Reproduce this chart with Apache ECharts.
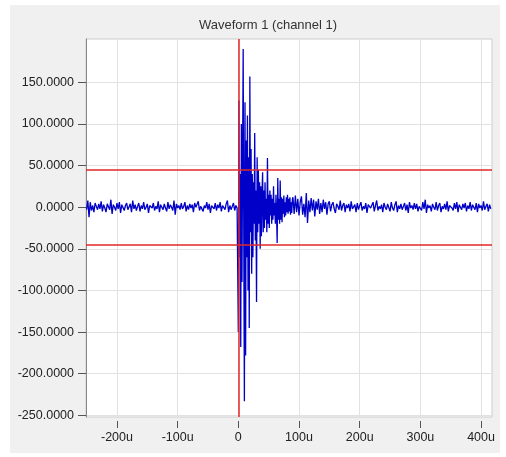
<!DOCTYPE html>
<html>
<head>
<meta charset="utf-8">
<title>Waveform 1 (channel 1)</title>
<script src="https://cdn.jsdelivr.net/npm/echarts@6.0.0/dist/echarts.min.js"></script>
<style>
  html, body { margin: 0; padding: 0; background: #fff; }
  #chart { width: 506px; height: 457px; }
</style>
</head>
<body>
<div id="chart"></div>
<script>
const title = 'Waveform 1 (channel 1)';

// tick positions (time in us, amplitude)
const xTicks = [-200, -100, 0, 100, 200, 300, 400];
const yTicks = [-250, -200, -150, -100, -50, 0, 50, 100, 150];

// cursor lines
const triggerTime = 0;
const thresholds = [45, -45];

// pre-trigger noise, every 2us from -250us
const preStart = -250;
const preStep = 2;
const preValues = [
  -3, 8, -12, 6, -4, 2, -6, 5, 1, -3, 4, -2, 7, -5, 3, -1, -6, 4, 2, -3,
  9, -8, 3, 0, -4, 5, -2, 6, -7, 3, 1, -4, 2, 5, -3, -1, 4, -6, 8, -2,
  3, -4, 1, 5, -5, 2, -2, 6, -3, 0, 4, -7, 2, 3, -1, 5, -4, 1, -2, 7,
  -6, 3, 2, -3, 4, -1, -5, 6, -2, 3, 0, -4, 8, -9, 4, -1, 2, -3, 5, -2,
  1, 6, -5, 2, -3, 4, -1, 3, -6, 5, 0, -2, 7, -4, 1, 3, -5, 2, -1, 6,
  -3, 4, -7, 2, 1, -2, 5, -4, 3, -1, 6, -5, 2, 0, -3, 4, 8, -6, 2, -3,
  1, 5, -4, 2, -1,
];

// burst after trigger, every 1us from 0
const burstStart = 0;
const burstStep = 1;
const burstValues = [
  -150, 128, -60, 40, -168, 100, -90, 60, 190, -40,
  -233, 126, -178, 80, -60, 110, -100, 60, -145, 157,
  -30, 70, -80, 40, -60, 30, -20, 89, -40, 20,
  -114, 60, -30, 45, -20, 30, -50, 25, -35, 15,
  42, -30, 20, -25, 30, -15, 10, -30, 59, -20,
  15, -25, 20, -10, 15, -20, 10, -15, 25, -10,
  5, -20, 15, -10, -43, 35, -15, 10, -20, 32,
  -15, 12, -18, 10, -8, 14, -12, 6, -10, 12,
  -6, 15, -8, 10, -5, 12, -9, 6, -7, 9,
];

// tail noise, every 2us from 90us
const tailStart = 90;
const tailStep = 2;
const tailValues = [
  12, -8, 14, -6, 10, -10, 6, 13, -9, 4, -12, 17, -19, 8, -6, 11, -4, 9, -11, 7,
  -3, 10, -8, 5, -6, 9, -2, 6, -9, 4, 7,
  -5, 3, 6, -2, -7, 4, 1, -3, 8, -4, 2, 5, -6, 3, -1, 4, -5, 7, -2, 0,
  3, -6, 5, -3, 2, 6, -4, 1, -2, 5, -7, 3, 4, -1, -3, 6, -5, 2, 8, -4,
  1, -2, 3, -6, 5, 0, -3, 4, 2, -5, 6, -1, -4, 3, 7, -6, 2, -2, 4, -3,
  1, 5, -4, 3, -7, 6, -1, 2, -3, 5, -2, 4, -5, 1, 3, -4, 6, -2, 9, -7,
  3, -1, 2, -5, 4, 0, -3, 6, -4, 2, 5, -6, 1, -2, 4, -3, 7, -5, 2, 3,
  -1, -4, 5, -2, 6, -6, 3, 1, -3, 4, -1, 5, -5, 2, -2, 6, -4, 3, 0, -3,
  5, -6, 4, -1, 2, -4, 7, -3, 1, 4, -5, 3, -2,
];

const toPairs = (start, step, values) => values.map((v, i) => [start + i * step, v]);

const waveData = []
  .concat(toPairs(preStart, preStep, preValues))
  .concat(toPairs(burstStart, burstStep, burstValues))
  .concat(toPairs(tailStart, tailStep, tailValues));

const font = 'Liberation Sans, Arial, sans-serif';

const chart = echarts.init(document.getElementById('chart'), null, { renderer: 'canvas' });

const option = {
  animation: false,
  backgroundColor: '#ffffff',
  graphic: [{
    type: 'rect',
    z: -10,
    shape: { x: 10, y: 5, width: 490, height: 448 },
    style: { fill: '#f0f0f0' },
  }],
  title: {
    text: title,
    left: 263,
    textAlign: 'center',
    top: 14,
    textStyle: { fontFamily: font, fontSize: 13, fontWeight: 'normal', color: '#333' },
  },
  grid: {
    left: 86,
    top: 39,
    right: 14,
    bottom: 40,
    show: true,
    backgroundColor: '#ffffff',
    borderColor: '#cccccc',
    borderWidth: 1,
  },
  xAxis: {
    type: 'value',
    min: -251,
    max: 418,
    offset: 4,
    axisLine: { show: false, onZero: false },
    axisTick: {
      show: true,
      length: 7,
      customValues: xTicks,
      lineStyle: { color: '#555', width: 1 },
    },
    axisLabel: {
      customValues: xTicks,
      margin: 10,
      fontFamily: font,
      fontSize: 12.5,
      color: '#222',
      formatter: (v) => (v === 0 ? '0' : v + 'u'),
    },
    splitLine: { show: true, lineStyle: { color: '#e2e2e2', width: 1 } },
  },
  yAxis: {
    type: 'value',
    min: -252,
    max: 202,
    axisLine: { show: true, onZero: false, lineStyle: { color: '#888', width: 1 } },
    axisTick: {
      show: true,
      length: 8,
      customValues: yTicks,
      lineStyle: { color: '#555', width: 1 },
    },
    axisLabel: {
      customValues: yTicks,
      margin: 12,
      fontFamily: font,
      fontSize: 12.5,
      color: '#222',
      formatter: (v) => v.toFixed(4),
    },
    splitLine: { show: true, lineStyle: { color: '#e2e2e2', width: 1 } },
  },
  series: [{
    type: 'line',
    data: waveData,
    showSymbol: false,
    symbol: 'none',
    clip: true,
    lineStyle: { color: '#0000c8', width: 1.3 },
    z: 2,
    markLine: {
      silent: true,
      symbol: 'none',
      label: { show: false },
      z: 5,
      lineStyle: { color: '#e02828', width: 1.5, type: 'solid' },
      data: [{ xAxis: triggerTime }].concat(thresholds.map((t) => ({ yAxis: t }))),
    },
  }],
};

chart.setOption(option);
</script>
</body>
</html>
